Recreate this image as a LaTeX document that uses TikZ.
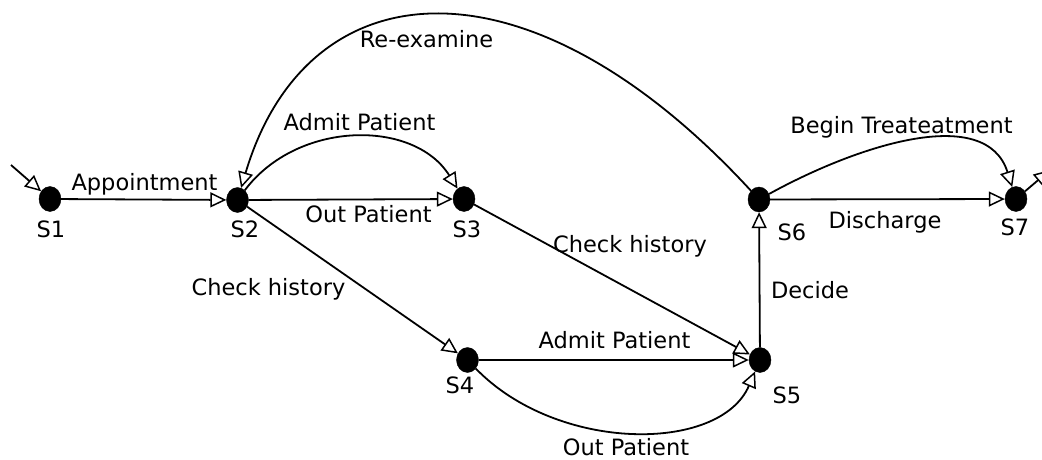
\documentclass[tikz,border=0pt]{standalone}
\usepackage{fontspec}
\setmainfont{DejaVu Sans}
\usetikzlibrary{arrows.meta,shapes.geometric}

\tikzset{
  state/.style={ellipse, fill=black, draw=black, minimum width=22pt, minimum height=25pt, inner sep=0pt},
  trans/.style={line width=1.8pt, -{Triangle[open, length=16pt, width=15pt, line width=1.5pt]}},
  txt/.style={anchor=base, inner sep=0pt, font=\fontsize{22.5}{27}\selectfont},
}

\begin{document}
\begin{tikzpicture}[x=1pt, y=1pt]
  \useasboundingbox (0,0) rectangle (1042,459);
  \clip (0,0) rectangle (1042,459);

  % states
  \node[state] (s1) at (50,260) {};
  \node[state] (s2) at (237.5,259) {};
  \node[state] (s3) at (464,260) {};
  \node[state] (s4) at (467.5,99) {};
  \node[state] (s5) at (760,99) {};
  \node[state] (s6) at (759,259.5) {};
  \node[state] (s7) at (1016,260) {};

  % free ends of the entry and exit arrows
  \coordinate (entry) at (11,294);
  \coordinate (exit) at (1050,289);

  % state names
  \node[txt] (l1) at (51,222) {S1};
  \node[txt] (l2) at (245,222) {S2};
  \node[txt] (l3) at (467,222) {S3};
  \node[txt] (l4) at (460,66) {S4};
  \node[txt] (l5) at (787,56) {S5};
  \node[txt] (l6) at (792,219) {S6};
  \node[txt] (l7) at (1015,224) {S7};

  % transitions
  \draw[trans] (entry) -- (s1);
  \draw[trans] (s1) -- (s2);
  \draw[trans] (s2) -- (s3);
  \draw[trans] (s2) .. controls +(60,80) and +(-50,80) .. (s3);
  \draw[trans] (s2) -- (s4);
  \draw[trans] (s3) -- (s5);
  \draw[trans] (s4) -- (s5);
  \draw[trans] (s4) .. controls +(90,-93) and +(-40,-93) .. (s5);
  \draw[trans] (s5) -- (s6);
  \draw[trans] (s6) .. controls +(-230,250) and +(70,235) .. (s2);
  \draw[trans] (s6) -- (s7);
  \draw[trans] (s6) .. controls +(100,55) and +(-30,95) .. (s7);
  \draw[trans] (s7) -- (exit);

  % transition labels
  \node[txt] (tAppt) at (144.5,269) {Appointment};
  \node[txt] (tAdmitA) at (359.5,329) {Admit Patient};
  \node[txt] (tOutA) at (368.5,237) {Out Patient};
  \node[txt] (tHistA) at (268.5,164) {Check history};
  \node[txt] (tHistB) at (630,207) {Check history};
  \node[txt] (tAdmitB) at (614.5,111) {Admit Patient};
  \node[txt] (tOutB) at (626,4) {Out Patient};
  \node[txt] (tDecide) at (810,161) {Decide};
  \node[txt] (tReexam) at (426.5,411) {Re-examine};
  \node[txt] (tBegin) at (901.5,326) {Begin Treateatment};
  \node[txt] (tDisch) at (885,231) {Discharge};
\end{tikzpicture}
\end{document}
